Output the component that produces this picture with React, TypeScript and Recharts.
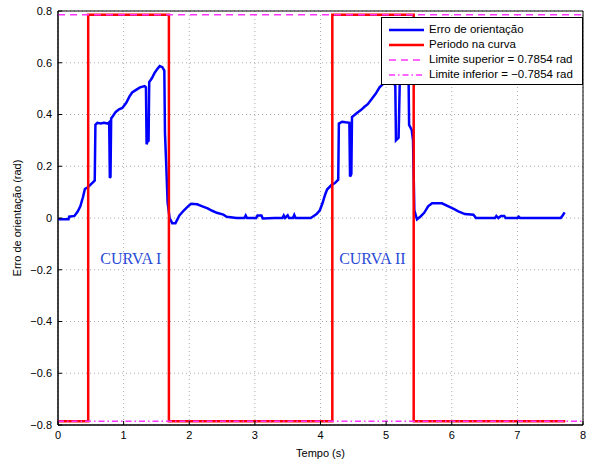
import { LineChart, Line, XAxis, YAxis, CartesianGrid, Legend, ReferenceArea, ReferenceDot } from "recharts";

// orientation error (blue)
const errTime = [
  0.0, 0.16, 0.17, 0.25, 0.3, 0.34, 0.38, 0.41, 0.46, 0.5, 0.54, 0.56, 0.57, 0.6, 0.65, 0.7, 0.76, 0.78, 0.79, 0.8,
  0.81, 0.84, 0.88, 0.93, 0.98, 1.04, 1.09, 1.13, 1.19, 1.25, 1.32, 1.34, 1.35, 1.37, 1.38, 1.39, 1.43, 1.47, 1.51, 1.55,
  1.59, 1.62, 1.63, 1.65, 1.67, 1.7, 1.74, 1.79, 1.85, 1.92, 1.98, 2.03, 2.12, 2.2, 2.28, 2.35, 2.42, 2.52, 2.57, 2.72,
  2.84, 2.86, 2.88, 3.02, 3.04, 3.1, 3.12, 3.3, 3.42, 3.44, 3.46, 3.5, 3.52, 3.58, 3.6, 3.62, 3.85, 3.88, 3.94, 3.99,
  4.03, 4.07, 4.1, 4.17, 4.22, 4.27, 4.28, 4.33, 4.38, 4.44, 4.45, 4.47, 4.48, 4.55, 4.62, 4.67, 4.72, 4.78, 4.84, 4.9,
  4.96, 5.03, 5.08, 5.12, 5.14, 5.15, 5.19, 5.21, 5.25, 5.31, 5.34, 5.35, 5.39, 5.41, 5.43, 5.47, 5.52, 5.58, 5.64, 5.7,
  5.85, 5.95, 6.03, 6.1, 6.2, 6.33, 6.37, 6.66, 6.68, 6.71, 6.75, 6.8, 6.82, 7.0, 7.02, 7.04, 7.66, 7.69, 7.72,
];
const errValue = [
  -0.005, -0.005, 0.005, 0.008, 0.025, 0.045, 0.08, 0.112, 0.12, 0.13, 0.14, 0.145, 0.36, 0.368, 0.365, 0.368, 0.365, 0.37, 0.155, 0.16,
  0.385, 0.395, 0.41, 0.42, 0.425, 0.445, 0.47, 0.485, 0.495, 0.505, 0.51, 0.505, 0.285, 0.3, 0.3, 0.525, 0.54, 0.56, 0.575, 0.587,
  0.583, 0.57, 0.33, 0.2, 0.06, 0.0, -0.02, -0.02, 0.01, 0.03, 0.045, 0.055, 0.053, 0.045, 0.037, 0.028, 0.02, 0.013, 0.005, 0.0,
  0.0, 0.01, 0.0, 0.0, 0.01, 0.01, -0.002, 0.0, 0.0, 0.01, 0.0, 0.01, 0.0, 0.0, 0.012, 0.0, 0.0, 0.005, 0.015, 0.03,
  0.057, 0.09, 0.11, 0.128, 0.135, 0.148, 0.365, 0.372, 0.37, 0.368, 0.16, 0.17, 0.39, 0.405, 0.418, 0.43, 0.44, 0.46, 0.48, 0.505,
  0.52, 0.528, 0.528, 0.52, 0.51, 0.3, 0.31, 0.55, 0.6, 0.6, 0.59, 0.36, 0.34, 0.3, 0.03, -0.005, 0.005, 0.02, 0.045, 0.057,
  0.057, 0.045, 0.035, 0.026, 0.015, 0.013, 0.0, 0.0, 0.008, 0.0, 0.008, 0.008, 0.0, 0.0, 0.005, 0.0, 0.0, 0.01, 0.022,
];

// curve period (red square wave)
const periodTime = [0, 0.46, 0.46, 1.69, 1.69, 4.18, 4.18, 5.42, 5.42, 7.73];
const periodValue = [-0.7854, -0.7854, 0.7854, 0.7854, -0.7854, -0.7854, 0.7854, 0.7854, -0.7854, -0.7854];

const limitTime = [0, 8];
const upperLimit = [0.7854, 0.7854];
const lowerLimit = [-0.7854, -0.7854];

const xTicks = [0, 1, 2, 3, 4, 5, 6, 7, 8];
const yTicks = [-0.8, -0.6, -0.4, -0.2, 0, 0.2, 0.4, 0.6, 0.8];

const legendItems = [
  { label: "Erro de orientação", color: "#0000ff", dash: undefined, width: 2.5 },
  { label: "Periodo na curva", color: "#ff0000", dash: undefined, width: 2.5 },
  { label: "Limite superior = 0.7854 rad", color: "#ff33ff", dash: "7 5", width: 1.5 },
  { label: "Limite inferior = \u22120.7854 rad", color: "#ff33ff", dash: "6 3 1.5 3", width: 1.5 },
];

const zip = (ts: number[], vs: number[]) => ts.map((t, i) => ({ t, v: vs[i] }));

const errData = zip(errTime, errValue);
const periodData = zip(periodTime, periodValue);
const upperData = zip(limitTime, upperLimit);
const lowerData = zip(limitTime, lowerLimit);

const font = "'Liberation Sans', Arial, sans-serif";
const fmt = (v: number) => (v === 0 ? "0" : String(v).replace("-", "\u2212"));

function LegendBox() {
  return (
    <div
      style={{
        border: "1px solid #000",
        background: "#fff",
        padding: "4px 0 2px 6px",
        fontFamily: font,
        fontSize: 11.5,
        color: "#000",
        lineHeight: "15px",
      }}
    >
      {legendItems.map((it) => (
        <div key={it.label} style={{ display: "flex", alignItems: "center", height: 15 }}>
          <svg width={38} height={10} style={{ marginRight: 3 }}>
            <line x1={1} y1={5} x2={36} y2={5} stroke={it.color} strokeWidth={it.width} strokeDasharray={it.dash} />
          </svg>
          <span>{it.label}</span>
        </div>
      ))}
    </div>
  );
}

export default function App() {
  return (
    <div style={{ position: "absolute", left: 0, top: 0, background: "#fff" }}>
      <LineChart width={589} height={461} margin={{ top: 11, right: 6, bottom: 0, left: 0 }}>
        <CartesianGrid stroke="#aaa" strokeDasharray="1 3" />
        <XAxis
          type="number"
          dataKey="t"
          domain={[0, 8]}
          ticks={xTicks}
          allowDataOverflow
          height={36}
          axisLine={{ stroke: "#000" }}
          tickLine={{ stroke: "#000" }}
          tickSize={-4}
          tickMargin={10}
          tick={{ fill: "#000", fontSize: 11, fontFamily: font }}
          label={{ value: "Tempo (s)", position: "insideBottom", offset: 4, fill: "#000", fontSize: 11, fontFamily: font }}
        />
        <YAxis
          type="number"
          dataKey="v"
          domain={[-0.8, 0.8]}
          ticks={yTicks}
          allowDataOverflow
          width={58}
          axisLine={{ stroke: "#000" }}
          tickLine={{ stroke: "#000" }}
          tickSize={-4}
          tickMargin={10}
          tickFormatter={fmt}
          tick={{ fill: "#000", fontSize: 11, fontFamily: font }}
          label={{
            value: "Erro de orientação (rad)",
            angle: -90,
            position: "insideLeft",
            offset: 17,
            fill: "#000",
            fontSize: 11,
            fontFamily: font,
            style: { textAnchor: "middle" },
          }}
        />
        <ReferenceArea x1={0} x2={8} y1={-0.8} y2={0.8} fill="none" stroke="#000" strokeWidth={1} />
        <Line data={errData} dataKey="v" stroke="#0000ff" strokeWidth={2.5} dot={false} isAnimationActive={false} />
        <Line data={periodData} dataKey="v" stroke="#ff0000" strokeWidth={2.5} dot={false} isAnimationActive={false} />
        <Line data={upperData} dataKey="v" stroke="#ff33ff" strokeWidth={1.5} strokeDasharray="7 5" dot={false} isAnimationActive={false} />
        <Line data={lowerData} dataKey="v" stroke="#ff33ff" strokeWidth={1.5} strokeDasharray="6 3 1.5 3" dot={false} isAnimationActive={false} />
        <ReferenceDot
          x={1.11}
          y={-0.155}
          r={0}
          label={{ value: "CURVA I", position: "center", fill: "#2a4bd6", fontSize: 16, fontFamily: "'Liberation Serif', serif" }}
        />
        <ReferenceDot
          x={4.79}
          y={-0.155}
          r={0}
          label={{ value: "CURVA II", position: "center", fill: "#2a4bd6", fontSize: 16, fontFamily: "'Liberation Serif', serif" }}
        />
        <Legend
          layout="horizontal"
          verticalAlign="middle"
          align="center"
          content={() => <LegendBox />}
          wrapperStyle={{ top: 17, left: 381, width: 202, bottom: "auto", right: "auto" }}
        />
      </LineChart>
    </div>
  );
}
